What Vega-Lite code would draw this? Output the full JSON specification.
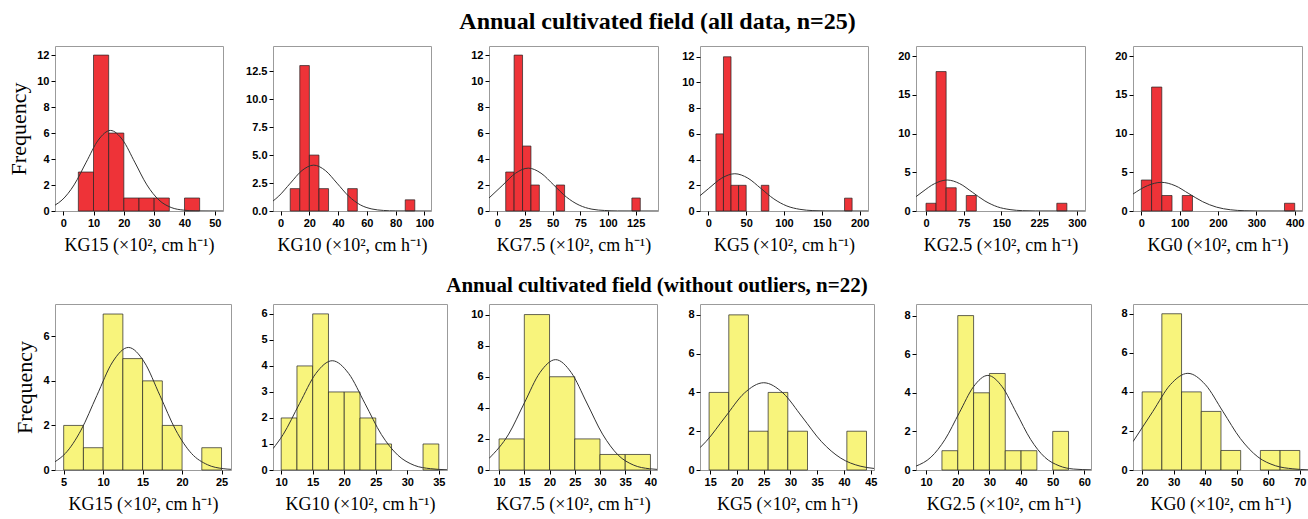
{
"$schema":"https://vega.github.io/schema/vega-lite/v6.json",
"background":"white",
"padding":{"left":7,"top":9,"right":0,"bottom":2},
"datasets":{
"bars":[
{"p":1,"x":5,"x2":10,"y":3},{"p":1,"x":10,"x2":15,"y":12},{"p":1,"x":15,"x2":20,"y":6},{"p":1,"x":20,"x2":25,"y":1},{"p":1,"x":25,"x2":30,"y":1},{"p":1,"x":30,"x2":35,"y":1},{"p":1,"x":40,"x2":45,"y":1},
{"p":2,"x":6.67,"x2":13.33,"y":2},{"p":2,"x":13.33,"x2":20,"y":13},{"p":2,"x":20,"x2":26.67,"y":5},{"p":2,"x":26.67,"x2":33.33,"y":2},{"p":2,"x":46.67,"x2":53.33,"y":2},{"p":2,"x":86.67,"x2":93.33,"y":1},
{"p":3,"x":7.6,"x2":15.2,"y":3},{"p":3,"x":15.2,"x2":22.8,"y":12},{"p":3,"x":22.8,"x2":30.4,"y":5},{"p":3,"x":30.4,"x2":38,"y":2},{"p":3,"x":53.2,"x2":60.8,"y":2},{"p":3,"x":121.6,"x2":129.2,"y":1},
{"p":4,"x":10,"x2":20,"y":6},{"p":4,"x":20,"x2":30,"y":12},{"p":4,"x":30,"x2":40,"y":2},{"p":4,"x":40,"x2":50,"y":2},{"p":4,"x":70,"x2":80,"y":2},{"p":4,"x":180,"x2":190,"y":1},
{"p":5,"x":0,"x2":20,"y":1},{"p":5,"x":20,"x2":40,"y":18},{"p":5,"x":40,"x2":60,"y":3},{"p":5,"x":80,"x2":100,"y":2},{"p":5,"x":260,"x2":280,"y":1},
{"p":6,"x":0,"x2":26.67,"y":4},{"p":6,"x":26.67,"x2":53.33,"y":16},{"p":6,"x":53.33,"x2":80,"y":2},{"p":6,"x":106.67,"x2":133.33,"y":2},{"p":6,"x":373.33,"x2":400,"y":1},
{"p":7,"x":5,"x2":7.5,"y":2},{"p":7,"x":7.5,"x2":10,"y":1},{"p":7,"x":10,"x2":12.5,"y":7},{"p":7,"x":12.5,"x2":15,"y":5},{"p":7,"x":15,"x2":17.5,"y":4},{"p":7,"x":17.5,"x2":20,"y":2},{"p":7,"x":22.5,"x2":25,"y":1},
{"p":8,"x":10,"x2":12.5,"y":2},{"p":8,"x":12.5,"x2":15,"y":4},{"p":8,"x":15,"x2":17.5,"y":6},{"p":8,"x":17.5,"x2":20,"y":3},{"p":8,"x":20,"x2":22.5,"y":3},{"p":8,"x":22.5,"x2":25,"y":2},{"p":8,"x":25,"x2":27.5,"y":1},{"p":8,"x":32.5,"x2":35,"y":1},
{"p":9,"x":10,"x2":15,"y":2},{"p":9,"x":15,"x2":20,"y":10},{"p":9,"x":20,"x2":25,"y":6},{"p":9,"x":25,"x2":30,"y":2},{"p":9,"x":30,"x2":35,"y":1},{"p":9,"x":35,"x2":40,"y":1},
{"p":10,"x":14.8,"x2":18.48,"y":4},{"p":10,"x":18.48,"x2":22.15,"y":8},{"p":10,"x":22.15,"x2":25.83,"y":2},{"p":10,"x":25.83,"x2":29.5,"y":4},{"p":10,"x":29.5,"x2":33.18,"y":2},{"p":10,"x":40.53,"x2":44.2,"y":2},
{"p":11,"x":15,"x2":20,"y":1},{"p":11,"x":20,"x2":25,"y":8},{"p":11,"x":25,"x2":30,"y":4},{"p":11,"x":30,"x2":35,"y":5},{"p":11,"x":35,"x2":40,"y":1},{"p":11,"x":40,"x2":45,"y":1},{"p":11,"x":50,"x2":55,"y":2},
{"p":12,"x":20,"x2":26.25,"y":4},{"p":12,"x":26.25,"x2":32.5,"y":8},{"p":12,"x":32.5,"x2":38.75,"y":4},{"p":12,"x":38.75,"x2":45,"y":3},{"p":12,"x":45,"x2":51.25,"y":1},{"p":12,"x":57.5,"x2":63.75,"y":1},{"p":12,"x":63.75,"x2":70,"y":1}
],
"curves":[
{"p":1,"x":-2.7,"y":0.45},{"p":1,"x":-0.4,"y":0.84},{"p":1,"x":3.6,"y":2.01},{"p":1,"x":7.6,"y":3.76},{"p":1,"x":11.6,"y":5.47},{"p":1,"x":15.6,"y":6.2},{"p":1,"x":19.6,"y":5.47},{"p":1,"x":23.6,"y":3.76},{"p":1,"x":27.6,"y":2.01},{"p":1,"x":31.6,"y":0.84},{"p":1,"x":35.6,"y":0.27},{"p":1,"x":39.6,"y":0.07},{"p":1,"x":43.6,"y":0.01},{"p":1,"x":52.7,"y":0},
{"p":2,"x":-5.3,"y":0.89},{"p":2,"x":-1.3,"y":1.33},{"p":2,"x":6.8,"y":2.49},{"p":2,"x":14.9,"y":3.62},{"p":2,"x":23,"y":4.1},{"p":2,"x":31.1,"y":3.62},{"p":2,"x":39.2,"y":2.49},{"p":2,"x":47.3,"y":1.33},{"p":2,"x":55.4,"y":0.55},{"p":2,"x":63.5,"y":0.18},{"p":2,"x":71.6,"y":0.05},{"p":2,"x":79.7,"y":0.01},{"p":2,"x":104.6,"y":0},
{"p":3,"x":-7.5,"y":1.0},{"p":3,"x":5,"y":2.0},{"p":3,"x":16.5,"y":2.91},{"p":3,"x":28,"y":3.3},{"p":3,"x":39.5,"y":2.91},{"p":3,"x":51,"y":2.0},{"p":3,"x":62.5,"y":1.07},{"p":3,"x":74,"y":0.45},{"p":3,"x":85.5,"y":0.14},{"p":3,"x":97,"y":0.04},{"p":3,"x":108.5,"y":0.007},{"p":3,"x":145.2,"y":0},
{"p":4,"x":-11,"y":1.19},{"p":4,"x":0.6,"y":1.76},{"p":4,"x":17.8,"y":2.56},{"p":4,"x":35,"y":2.9},{"p":4,"x":52.2,"y":2.56},{"p":4,"x":69.4,"y":1.76},{"p":4,"x":86.6,"y":0.94},{"p":4,"x":103.8,"y":0.39},{"p":4,"x":121,"y":0.13},{"p":4,"x":138.2,"y":0.03},{"p":4,"x":155.4,"y":0.006},{"p":4,"x":211,"y":0},
{"p":5,"x":-19.9,"y":1.85},{"p":5,"x":-8,"y":2.43},{"p":5,"x":17,"y":3.53},{"p":5,"x":42,"y":4.0},{"p":5,"x":67,"y":3.53},{"p":5,"x":92,"y":2.43},{"p":5,"x":117,"y":1.3},{"p":5,"x":142,"y":0.54},{"p":5,"x":167,"y":0.18},{"p":5,"x":192,"y":0.044},{"p":5,"x":217,"y":0.009},{"p":5,"x":316,"y":0},
{"p":6,"x":-21.8,"y":2.19},{"p":6,"x":16,"y":3.27},{"p":6,"x":52,"y":3.7},{"p":6,"x":88,"y":3.27},{"p":6,"x":124,"y":2.24},{"p":6,"x":160,"y":1.2},{"p":6,"x":196,"y":0.5},{"p":6,"x":232,"y":0.16},{"p":6,"x":268,"y":0.04},{"p":6,"x":304,"y":0.008},{"p":6,"x":419,"y":0},
{"p":7,"x":3.9,"y":0.37},{"p":7,"x":5.2,"y":0.74},{"p":7,"x":7.2,"y":1.79},{"p":7,"x":9.2,"y":3.34},{"p":7,"x":11.2,"y":4.85},{"p":7,"x":13.2,"y":5.5},{"p":7,"x":15.2,"y":4.85},{"p":7,"x":17.2,"y":3.34},{"p":7,"x":19.2,"y":1.79},{"p":7,"x":21.2,"y":0.74},{"p":7,"x":23.2,"y":0.24},{"p":7,"x":25.2,"y":0.06},{"p":7,"x":26.2,"y":0.03},
{"p":8,"x":8.7,"y":0.82},{"p":8,"x":10.3,"y":1.36},{"p":8,"x":12.9,"y":2.55},{"p":8,"x":15.5,"y":3.71},{"p":8,"x":18.1,"y":4.2},{"p":8,"x":20.7,"y":3.71},{"p":8,"x":23.3,"y":2.55},{"p":8,"x":25.9,"y":1.36},{"p":8,"x":28.5,"y":0.57},{"p":8,"x":31.1,"y":0.18},{"p":8,"x":33.7,"y":0.05},{"p":8,"x":36.3,"y":0.01},
{"p":9,"x":8.0,"y":0.74},{"p":9,"x":11.9,"y":2.31},{"p":9,"x":15.0,"y":4.31},{"p":9,"x":18.1,"y":6.27},{"p":9,"x":21.2,"y":7.1},{"p":9,"x":24.3,"y":6.27},{"p":9,"x":27.4,"y":4.31},{"p":9,"x":30.5,"y":2.31},{"p":9,"x":33.6,"y":0.96},{"p":9,"x":36.7,"y":0.31},{"p":9,"x":39.8,"y":0.08},{"p":9,"x":41.3,"y":0.04},
{"p":10,"x":13.1,"y":1.15},{"p":10,"x":14.2,"y":1.46},{"p":10,"x":17.8,"y":2.73},{"p":10,"x":21.4,"y":3.97},{"p":10,"x":25,"y":4.5},{"p":10,"x":28.6,"y":3.97},{"p":10,"x":32.2,"y":2.73},{"p":10,"x":35.8,"y":1.46},{"p":10,"x":39.4,"y":0.61},{"p":10,"x":43,"y":0.2},{"p":10,"x":45.6,"y":0.08},
{"p":11,"x":6.8,"y":0.2},{"p":11,"x":11.5,"y":0.66},{"p":11,"x":16,"y":1.59},{"p":11,"x":20.5,"y":2.97},{"p":11,"x":25,"y":4.32},{"p":11,"x":29.5,"y":4.9},{"p":11,"x":34,"y":4.32},{"p":11,"x":38.5,"y":2.97},{"p":11,"x":43,"y":1.59},{"p":11,"x":47.5,"y":0.66},{"p":11,"x":52,"y":0.22},{"p":11,"x":56.5,"y":0.05},{"p":11,"x":62.1,"y":0.01},
{"p":12,"x":17.1,"y":1.45},{"p":12,"x":23.4,"y":3.0},{"p":12,"x":28.95,"y":4.37},{"p":12,"x":34.5,"y":4.95},{"p":12,"x":40.05,"y":4.37},{"p":12,"x":45.6,"y":3.0},{"p":12,"x":51.15,"y":1.61},{"p":12,"x":56.7,"y":0.67},{"p":12,"x":62.25,"y":0.22},{"p":12,"x":67.8,"y":0.06},{"p":12,"x":72.6,"y":0.01}
]
},
"columns":6,
"bounds":"flush",
"align":"each",
"spacing":{"row":93,"column":42},
"concat":[
{"width":168,"height":165,
 "encoding":{"x":{"field":"x","type":"quantitative","scale":{"domain":[-2.7,52.7],"nice":false,"zero":false},"axis":{"values":[0,10,20,30,40,50],"title":"KG15 (×10², cm h⁻¹)"}},
  "y":{"field":"y","type":"quantitative","scale":{"domain":[0,12.7],"nice":false,"zero":false},"axis":{"values":[0,2,4,6,8,10,12],"title":"Frequency"}}},
 "layer":[{"data":{"name":"bars"},"transform":[{"filter":"datum.p==1"}],"mark":{"type":"bar","color":"#ee3338"},"encoding":{"x2":{"field":"x2"},"y2":{"datum":0}}},
  {"data":{"name":"curves"},"transform":[{"filter":"datum.p==1"}],"mark":{"type":"line","clip":true}}]},
{"width":158,"height":165,
 "encoding":{"x":{"field":"x","type":"quantitative","scale":{"domain":[-5.3,104.6],"nice":false,"zero":false},"axis":{"values":[0,20,40,60,80,100],"title":"KG10 (×10², cm h⁻¹)"}},
  "y":{"field":"y","type":"quantitative","scale":{"domain":[0,14.75],"nice":false,"zero":false},"axis":{"values":[0,2.5,5,7.5,10,12.5],"format":".1f","title":null}}},
 "layer":[{"data":{"name":"bars"},"transform":[{"filter":"datum.p==2"}],"mark":{"type":"bar","color":"#ee3338"},"encoding":{"x2":{"field":"x2"},"y2":{"datum":0}}},
  {"data":{"name":"curves"},"transform":[{"filter":"datum.p==2"}],"mark":{"type":"line","clip":true}}]},
{"width":169,"height":165,
 "title":{"text":"Annual cultivated field (all data, n=25)","anchor":"middle","dx":84,"offset":12,"fontSize":24},
 "encoding":{"x":{"field":"x","type":"quantitative","scale":{"domain":[-7.5,145.2],"nice":false,"zero":false},"axis":{"values":[0,25,50,75,100,125],"title":"KG7.5 (×10², cm h⁻¹)"}},
  "y":{"field":"y","type":"quantitative","scale":{"domain":[0,12.7],"nice":false,"zero":false},"axis":{"values":[0,2,4,6,8,10,12],"title":null}}},
 "layer":[{"data":{"name":"bars"},"transform":[{"filter":"datum.p==3"}],"mark":{"type":"bar","color":"#ee3338"},"encoding":{"x2":{"field":"x2"},"y2":{"datum":0}}},
  {"data":{"name":"curves"},"transform":[{"filter":"datum.p==3"}],"mark":{"type":"line","clip":true}}]},
{"width":168,"height":165,
 "encoding":{"x":{"field":"x","type":"quantitative","scale":{"domain":[-11,211],"nice":false,"zero":false},"axis":{"values":[0,50,100,150,200],"title":"KG5 (×10², cm h⁻¹)"}},
  "y":{"field":"y","type":"quantitative","scale":{"domain":[0,12.84],"nice":false,"zero":false},"axis":{"values":[0,2,4,6,8,10,12],"title":null}}},
 "layer":[{"data":{"name":"bars"},"transform":[{"filter":"datum.p==4"}],"mark":{"type":"bar","color":"#ee3338"},"encoding":{"x2":{"field":"x2"},"y2":{"datum":0}}},
  {"data":{"name":"curves"},"transform":[{"filter":"datum.p==4"}],"mark":{"type":"line","clip":true}}]},
{"width":169,"height":165,
 "encoding":{"x":{"field":"x","type":"quantitative","scale":{"domain":[-19.9,316],"nice":false,"zero":false},"axis":{"values":[0,75,150,225,300],"title":"KG2.5 (×10², cm h⁻¹)"}},
  "y":{"field":"y","type":"quantitative","scale":{"domain":[0,21.3],"nice":false,"zero":false},"axis":{"values":[0,5,10,15,20],"title":null}}},
 "layer":[{"data":{"name":"bars"},"transform":[{"filter":"datum.p==5"}],"mark":{"type":"bar","color":"#ee3338"},"encoding":{"x2":{"field":"x2"},"y2":{"datum":0}}},
  {"data":{"name":"curves"},"transform":[{"filter":"datum.p==5"}],"mark":{"type":"line","clip":true}}]},
{"width":169,"height":165,
 "encoding":{"x":{"field":"x","type":"quantitative","scale":{"domain":[-21.8,419],"nice":false,"zero":false},"axis":{"values":[0,100,200,300,400],"title":"KG0 (×10², cm h⁻¹)"}},
  "y":{"field":"y","type":"quantitative","scale":{"domain":[0,21.3],"nice":false,"zero":false},"axis":{"values":[0,5,10,15,20],"title":null}}},
 "layer":[{"data":{"name":"bars"},"transform":[{"filter":"datum.p==6"}],"mark":{"type":"bar","color":"#ee3338"},"encoding":{"x2":{"field":"x2"},"y2":{"datum":0}}},
  {"data":{"name":"curves"},"transform":[{"filter":"datum.p==6"}],"mark":{"type":"line","clip":true}}]},
{"width":176,"height":166,
 "encoding":{"x":{"field":"x","type":"quantitative","scale":{"domain":[3.9,26.2],"nice":false,"zero":false},"axis":{"values":[5,10,15,20,25],"title":"KG15 (×10², cm h⁻¹)"}},
  "y":{"field":"y","type":"quantitative","scale":{"domain":[0,7.45],"nice":false,"zero":false},"axis":{"values":[0,2,4,6],"title":"Frequency"}}},
 "layer":[{"data":{"name":"bars"},"transform":[{"filter":"datum.p==7"}],"mark":{"type":"bar","color":"#f8f47c"},"encoding":{"x2":{"field":"x2"},"y2":{"datum":0}}},
  {"data":{"name":"curves"},"transform":[{"filter":"datum.p==7"}],"mark":{"type":"line","clip":true}}]},
{"width":174,"height":166,
 "encoding":{"x":{"field":"x","type":"quantitative","scale":{"domain":[8.7,36.3],"nice":false,"zero":false},"axis":{"values":[10,15,20,25,30,35],"title":"KG10 (×10², cm h⁻¹)"}},
  "y":{"field":"y","type":"quantitative","scale":{"domain":[0,6.38],"nice":false,"zero":false},"axis":{"values":[0,1,2,3,4,5,6],"title":null}}},
 "layer":[{"data":{"name":"bars"},"transform":[{"filter":"datum.p==8"}],"mark":{"type":"bar","color":"#f8f47c"},"encoding":{"x2":{"field":"x2"},"y2":{"datum":0}}},
  {"data":{"name":"curves"},"transform":[{"filter":"datum.p==8"}],"mark":{"type":"line","clip":true}}]},
{"width":168,"height":166,
 "title":{"text":"Annual cultivated field (without outliers, n=22)","anchor":"middle","dx":84,"offset":8,"fontSize":21},
 "encoding":{"x":{"field":"x","type":"quantitative","scale":{"domain":[8.0,41.3],"nice":false,"zero":false},"axis":{"values":[10,15,20,25,30,35,40],"title":"KG7.5 (×10², cm h⁻¹)"}},
  "y":{"field":"y","type":"quantitative","scale":{"domain":[0,10.68],"nice":false,"zero":false},"axis":{"values":[0,2,4,6,8,10],"title":null}}},
 "layer":[{"data":{"name":"bars"},"transform":[{"filter":"datum.p==9"}],"mark":{"type":"bar","color":"#f8f47c"},"encoding":{"x2":{"field":"x2"},"y2":{"datum":0}}},
  {"data":{"name":"curves"},"transform":[{"filter":"datum.p==9"}],"mark":{"type":"line","clip":true}}]},
{"width":174,"height":166,
 "encoding":{"x":{"field":"x","type":"quantitative","scale":{"domain":[13.1,45.6],"nice":false,"zero":false},"axis":{"values":[15,20,25,30,35,40,45],"title":"KG5 (×10², cm h⁻¹)"}},
  "y":{"field":"y","type":"quantitative","scale":{"domain":[0,8.56],"nice":false,"zero":false},"axis":{"values":[0,2,4,6,8],"title":null}}},
 "layer":[{"data":{"name":"bars"},"transform":[{"filter":"datum.p==10"}],"mark":{"type":"bar","color":"#f8f47c"},"encoding":{"x2":{"field":"x2"},"y2":{"datum":0}}},
  {"data":{"name":"curves"},"transform":[{"filter":"datum.p==10"}],"mark":{"type":"line","clip":true}}]},
{"width":175,"height":166,
 "encoding":{"x":{"field":"x","type":"quantitative","scale":{"domain":[6.8,62.1],"nice":false,"zero":false},"axis":{"values":[10,20,30,40,50,60],"title":"KG2.5 (×10², cm h⁻¹)"}},
  "y":{"field":"y","type":"quantitative","scale":{"domain":[0,8.6],"nice":false,"zero":false},"axis":{"values":[0,2,4,6,8],"title":null}}},
 "layer":[{"data":{"name":"bars"},"transform":[{"filter":"datum.p==11"}],"mark":{"type":"bar","color":"#f8f47c"},"encoding":{"x2":{"field":"x2"},"y2":{"datum":0}}},
  {"data":{"name":"curves"},"transform":[{"filter":"datum.p==11"}],"mark":{"type":"line","clip":true}}]},
{"width":175,"height":166,
 "encoding":{"x":{"field":"x","type":"quantitative","scale":{"domain":[17.1,72.6],"nice":false,"zero":false},"axis":{"values":[20,30,40,50,60,70],"title":"KG0 (×10², cm h⁻¹)"}},
  "y":{"field":"y","type":"quantitative","scale":{"domain":[0,8.5],"nice":false,"zero":false},"axis":{"values":[0,2,4,6,8],"title":null}}},
 "layer":[{"data":{"name":"bars"},"transform":[{"filter":"datum.p==12"}],"mark":{"type":"bar","color":"#f8f47c"},"encoding":{"x2":{"field":"x2"},"y2":{"datum":0}}},
  {"data":{"name":"curves"},"transform":[{"filter":"datum.p==12"}],"mark":{"type":"line","clip":true}}]}
],
"config":{
 "view":{"stroke":"#9b9b9b","strokeWidth":1},
 "axis":{"domain":false,"grid":false,"tickColor":"#000","tickSize":4,"tickWidth":1,"labelFont":"Liberation Sans","labelFontWeight":"bold","labelFontSize":11,"labelColor":"#000","labelPadding":2,"labelFlush":false,"labelOverlap":false,"titleFont":"Liberation Serif","titleFontWeight":"normal","titleColor":"#000"},
 "axisX":{"titleFontSize":18,"titlePadding":8},
 "axisY":{"titleFontSize":22,"titlePadding":6},
 "title":{"font":"Liberation Serif","fontSize":20,"fontWeight":"bold","color":"#000"},
 "bar":{"stroke":"#222","strokeWidth":0.7},
 "line":{"color":"#333","strokeWidth":1,"interpolate":"monotone"}
}
}
